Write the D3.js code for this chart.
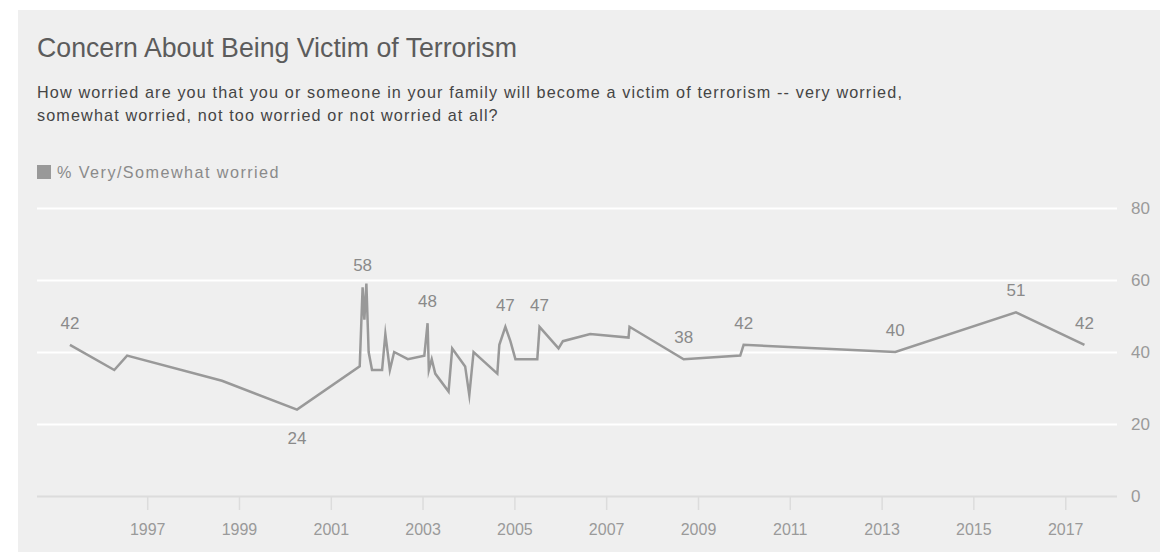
<!DOCTYPE html>
<html>
<head>
<meta charset="utf-8">
<script src="https://cdn.jsdelivr.net/npm/d3@7"></script>
<style>
  body { margin: 0; background: #ffffff; }
  svg text { font-family: "Liberation Sans", Arial, sans-serif; }
</style>
</head>
<body>
<svg id="chart" width="1160" height="552"></svg>
<script>
// Survey fielding dates and share very/somewhat worried (%)
const surveyDates = [
  "1995-04-27", "1996-04-14", "1996-07-25", "1998-08-19", "2000-04-07",
  "2001-08-19", "2001-09-11", "2001-09-25", "2001-10-11", "2001-10-29",
  "2001-11-25", "2002-02-13", "2002-03-11", "2002-04-16", "2002-05-20",
  "2002-09-06", "2003-01-15", "2003-02-10", "2003-02-20", "2003-03-15",
  "2003-04-12", "2003-07-27", "2003-08-25", "2003-12-06", "2004-01-08",
  "2004-02-11", "2004-08-18", "2004-09-03", "2004-10-21", "2004-11-30",
  "2005-01-09", "2005-07-02", "2005-07-20", "2005-12-18", "2006-01-22",
  "2006-08-27", "2007-06-28", "2007-07-06", "2008-09-09", "2009-12-03",
  "2009-12-30", "2013-04-20", "2015-12-06", "2017-06-03"
];
const worriedPct = [
  42, 35, 39, 32, 24,
  36, 58, 49, 59, 40,
  35, 35, 45, 35, 40,
  38, 39, 48, 35, 38,
  34, 29, 41, 36, 28,
  40, 34, 42, 47, 43,
  38, 38, 47, 41, 43,
  45, 44, 47, 38, 39,
  42, 40, 51, 42
];
// Which readings carry a value label, and whether it sits above or below
const labelIndex = [0, 4, 6, 17, 28, 32, 38, 40, 41, 42, 43];
const labelSide  = ["above", "below", "above", "above", "above", "above", "above", "above", "above", "above", "above"];

const yTickValues = [0, 20, 40, 60, 80];
const xTickYears = [1997, 1999, 2001, 2003, 2005, 2007, 2009, 2011, 2013, 2015, 2017];

const titleText = "Concern About Being Victim of Terrorism";
const subtitleLines = [
  "How worried are you that you or someone in your family will become a victim of terrorism -- very worried,",
  "somewhat worried, not too worried or not worried at all?"
];
const legendText = "% Very/Somewhat worried";

const parse = d3.timeParse("%Y-%m-%d");
const data = surveyDates.map((d, i) => ({ date: parse(d), value: worriedPct[i] }));

const svg = d3.select("#chart");
const W = 1160, H = 552;
const plot = { left: 37, right: 1117, top: 208, bottom: 496 };

// panel background
svg.append("rect")
  .attr("x", 18).attr("y", 10)
  .attr("width", W - 18).attr("height", H - 10)
  .attr("fill", "#efefef");

const x = d3.scaleTime()
  .domain([new Date(1994, 7, 8), new Date(2018, 1, 17)])
  .range([plot.left, plot.right]);
const y = d3.scaleLinear()
  .domain([0, 80])
  .range([plot.bottom, plot.top]);

// size a text node so that it spans a given width
function fitWidth(sel, width) {
  const base = parseFloat(sel.attr("font-size"));
  const len = sel.node().getComputedTextLength();
  sel.attr("font-size", (base * width / len).toFixed(2));
}
// tracking needed for a text node to span a given width
function fitSpacing(sel, width) {
  const len = sel.node().getComputedTextLength();
  const n = sel.text().length;
  return (width - len) / n;
}

// header
const title = svg.append("text")
  .attr("x", 37).attr("y", 57)
  .attr("font-size", 26)
  .attr("fill", "#5c5c5c")
  .text(titleText);
fitWidth(title, 480);

const subs = svg.selectAll("text.sub")
  .data(subtitleLines)
  .join("text")
  .attr("class", "sub")
  .attr("x", 37).attr("y", (d, i) => 98 + i * 23)
  .attr("font-size", 16.2)
  .attr("fill", "#454545")
  .text(d => d);
const subSpacing = fitSpacing(d3.select(subs.nodes()[0]), 866);
subs.attr("letter-spacing", subSpacing.toFixed(3));

// legend
svg.append("rect")
  .attr("x", 37).attr("y", 165)
  .attr("width", 14).attr("height", 14)
  .attr("fill", "#999");
const legend = svg.append("text")
  .attr("x", 57).attr("y", 177.5)
  .attr("font-size", 16.2)
  .attr("fill", "#8a8a8a")
  .text(legendText);
legend.attr("letter-spacing", fitSpacing(legend, 223).toFixed(3));

// y axis on the right with gridlines across the plot
const yAxis = d3.axisRight(y)
  .tickValues(yTickValues)
  .tickSize(-(plot.right - plot.left))
  .tickPadding(14);
const yg = svg.append("g")
  .attr("transform", `translate(${plot.right},0)`)
  .call(yAxis);
yg.select(".domain").remove();
yg.selectAll(".tick line")
  .attr("stroke", d => d === 0 ? "#dcdcdc" : "#ffffff")
  .attr("stroke-width", 2);
yg.selectAll(".tick text")
  .attr("fill", "#9a9a9a")
  .attr("font-size", 17)
  .attr("font-family", "'Liberation Sans', Arial, sans-serif");

// x axis with ticks hanging below the baseline
const xAxis = d3.axisBottom(x)
  .tickValues(xTickYears.map(yr => new Date(yr, 0, 1)))
  .tickFormat(d3.timeFormat("%Y"))
  .tickSize(13)
  .tickPadding(14);
const xg = svg.append("g")
  .attr("transform", `translate(0,${plot.bottom + 1})`)
  .call(xAxis);
xg.select(".domain").remove();
xg.selectAll(".tick line")
  .attr("stroke", "#dcdcdc")
  .attr("stroke-width", 1.5);
xg.selectAll(".tick text")
  .attr("fill", "#9a9a9a")
  .attr("font-size", 16)
  .attr("font-family", "'Liberation Sans', Arial, sans-serif");

// trend line
const line = d3.line()
  .x(d => x(d.date))
  .y(d => y(d.value));
svg.append("path")
  .datum(data)
  .attr("d", line)
  .attr("fill", "none")
  .attr("stroke", "#999")
  .attr("stroke-width", 2.5)
  .attr("stroke-linejoin", "miter")
  .attr("stroke-miterlimit", 10);

// value labels
svg.selectAll("text.val")
  .data(labelIndex.map((idx, k) => ({ d: data[idx], side: labelSide[k] })))
  .join("text")
  .attr("class", "val")
  .attr("x", o => x(o.d.date))
  .attr("y", o => o.side === "above" ? y(o.d.value) - 16 : y(o.d.value) + 34)
  .attr("text-anchor", "middle")
  .attr("font-size", 17)
  .attr("fill", "#8a8a8a")
  .text(o => o.d.value);
</script>
</body>
</html>
